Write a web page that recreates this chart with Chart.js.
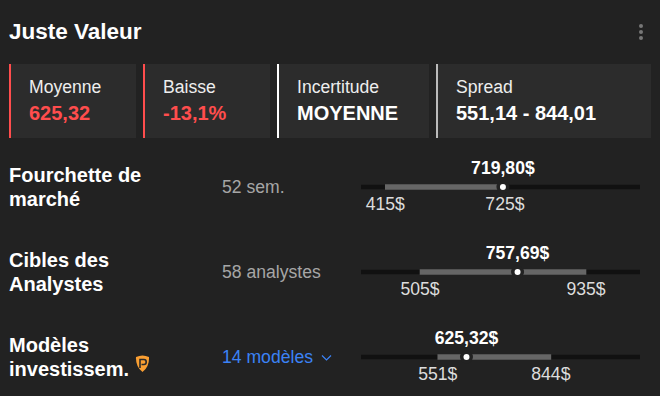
<!DOCTYPE html>
<html lang="fr">
<head>
<meta charset="UTF-8">
<title>Juste Valeur</title>
<script src="https://cdn.jsdelivr.net/npm/chart.js"></script>
<style>
html, body { margin: 0; padding: 0; background: #222222; }
body { position: relative; width: 660px; height: 396px; overflow: hidden; font-family: "Liberation Sans", Arial, sans-serif; color: #fff; }
.abs { position: absolute; white-space: nowrap; }
h1 { position: absolute; left: 9px; top: 20px; margin: 0; font-size: 22.5px; line-height: 24px; font-weight: 700; }
.kebab { position: absolute; left: 639px; top: 24px; width: 4px; height: 16px; }
.kebab i { display: block; width: 4px; height: 4px; border-radius: 50%; background: #777; margin-bottom: 2px; }
.card { position: absolute; top: 64px; height: 74px; background: #2c2c2c; border-left: 2px solid #fff; box-sizing: border-box; }
.card .k { position: absolute; left: 18px; top: 13px; font-size: 17.6px; line-height: 20px; color: #eee; white-space: nowrap; }
.card .v { position: absolute; left: 18px; top: 38px; font-size: 20px; line-height: 22px; font-weight: 700; white-space: nowrap; }
.name { position: absolute; left: 9px; font-size: 20px; line-height: 24px; font-weight: 700; }
.sub { position: absolute; left: 222px; font-size: 17.6px; line-height: 20px; color: #a6a6a6; white-space: nowrap; }
.val { position: absolute; transform: translateX(-50%); font-size: 17.6px; line-height: 20px; font-weight: 700; white-space: nowrap; }
.end { position: absolute; transform: translateX(-50%); font-size: 17.6px; line-height: 20px; color: #ddd; white-space: nowrap; }
#rangeChart { position: absolute; left: 361px; top: 144px; }
</style>
</head>
<body>
<h1>Juste Valeur</h1>
<div class="kebab"><i></i><i></i><i></i></div>
<div id="cards"></div>
<div id="rows"></div>
<canvas id="rangeChart" width="279" height="256"></canvas>
<script>
const cardTitles = ['Moyenne', 'Baisse', 'Incertitude', 'Spread'];
const cardValues = ['625,32', '-13,1%', 'MOYENNE', '551,14 - 844,01'];
const cardAccent = ['#ff4d4d', '#ff4d4d', '#ffffff', '#bbbbbb'];
const cardValueColor = ['#ff4d4d', '#ff4d4d', '#ffffff', '#ffffff'];
const cardLeft = [9, 143, 277, 436];
const cardWidth = [127, 127, 152, 215];

const rowKeys = ['marche', 'analystes', 'modeles'];
const rowNames = ['Fourchette de<br>marché', 'Cibles des<br>Analystes', 'Modèles<br>investissem.'];
const rowSubs = ['52 sem.', '58 analystes', '14 modèles'];
const rowY = [187, 272, 357];

const lows = [415, 505, 551];
const highs = [725, 935, 844];
const values = [719.80, 757.69, 625.32];
const valueLabels = ['719,80$', '757,69$', '625,32$'];
const lowLabels = ['415$', '505$', '551$'];
const highLabels = ['725$', '935$', '844$'];
const trackMin = 352;
const trackMax = 1075;

const cards = document.getElementById('cards');
cardTitles.forEach((t, i) => {
    const c = document.createElement('div');
    c.className = 'card';
    c.style.left = cardLeft[i] + 'px';
    c.style.width = cardWidth[i] + 'px';
    c.style.borderLeftColor = cardAccent[i];
    c.innerHTML = '<div class="k">' + t + '</div><div class="v" style="color:' + cardValueColor[i] + '">' + cardValues[i] + '</div>';
    cards.appendChild(c);
});

const rows = document.getElementById('rows');
function addText(cls, x, y, html, color) {
    const d = document.createElement('div');
    d.className = cls;
    if (x !== null) d.style.left = x + 'px';
    d.style.top = y + 'px';
    if (color) d.style.color = color;
    d.innerHTML = html;
    rows.appendChild(d);
}

rowKeys.forEach((k, i) => {
    addText('name', null, rowY[i] - 24, rowNames[i]);
    addText('sub', null, rowY[i] - 10, rowSubs[i], i == 2 ? '#3b82f6' : null);
});

// chevron + badge next to the models row
rows.insertAdjacentHTML('beforeend',
    '<svg class="abs" style="left:321px;top:354px" width="11" height="8" viewBox="0 0 11 8"><path d="M1 1.5 L5.5 6 L10 1.5" fill="none" stroke="#3b82f6" stroke-width="1.2"/></svg>' +
    '<svg class="abs" style="left:135px;top:355px" width="15" height="18" viewBox="0 0 15 18"><path d="M1 2 Q7.5 -1 14 2 Q14.5 12 7.5 17 Q0.5 12 1 2 Z" fill="#fa9f32"/><path d="M5 13 V4.5 H9 Q11.2 4.5 11.2 7 Q11.2 9.5 9 9.5 H6.5" fill="none" stroke="#2a2a2a" stroke-width="1.6"/></svg>');

const chart = new Chart(document.getElementById('rangeChart').getContext('2d'), {
    type: 'bar',
    data: {
        labels: rowKeys,
        datasets: [
            { type: 'scatter', data: values.map((v, i) => ({ x: v, y: rowKeys[i] })), pointRadius: 3, pointBackgroundColor: '#ffffff', pointBorderWidth: 0, order: 0 },
            { type: 'scatter', data: values.map((v, i) => ({ x: v, y: rowKeys[i] })), pointRadius: 6.5, pointBackgroundColor: '#222222', pointBorderWidth: 0, order: 1 },
            { data: lows.map((l, i) => [l, highs[i]]), backgroundColor: '#666666', barThickness: 5, order: 2 },
            { data: lows.map(() => [trackMin, trackMax]), backgroundColor: '#111111', barThickness: 4, order: 3 }
        ]
    },
    options: {
        indexAxis: 'y',
        responsive: false,
        animation: false,
        layout: { autoPadding: false, padding: { top: 0.5, bottom: 0.5, left: 0, right: 0 } },
        datasets: { bar: { grouped: false } },
        plugins: { legend: { display: false }, tooltip: { enabled: false } },
        scales: {
            x: { type: 'linear', display: false, min: trackMin, max: trackMax },
            y: { type: 'category', display: false }
        }
    }
});

// value and end labels sit on the chart's own x scale
const canvasLeft = 361;
rowKeys.forEach((k, i) => {
    const sx = v => canvasLeft + chart.scales.x.getPixelForValue(v);
    addText('val', sx(values[i]), rowY[i] - 29, valueLabels[i]);
    addText('end', sx(lows[i]), rowY[i] + 7, lowLabels[i]);
    addText('end', sx(highs[i]), rowY[i] + 7, highLabels[i]);
});
</script>
</body>
</html>
